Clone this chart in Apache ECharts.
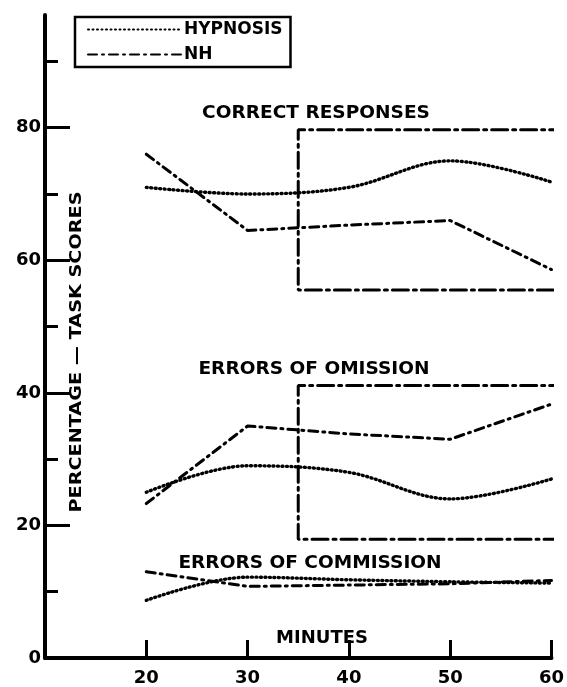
<!DOCTYPE html>
<html lang="en">

<head>
  <meta charset="UTF-8">
  <title>Task scores</title>
  <script src="https://cdn.jsdelivr.net/npm/echarts@6/dist/echarts.min.js"></script>
  <style>
    body { margin: 0; background: #fff; }
  </style>
</head>

<body>
  <div id="main" style="width: 567px;height:687px;"></div>
  <script type="text/javascript">
    // values
    var minutes = [20, 30, 40, 50, 60];
    var hypCorrect = [71, 70, 71, 75, 71.8];
    var nhCorrect = [76, 64.5, 65.3, 66, 58.6];
    var hypOmission = [25, 29, 28, 24, 27];
    var nhOmission = [23.3, 35, 33.8, 33, 38.3];
    var hypCommission = [8.7, 12.2, 11.8, 11.5, 11.3];
    var nhCommission = [13, 10.8, 11, 11.2, 11.7];

    var yMajor = [0, 20, 40, 60, 80];
    var yMinor = [10, 30, 50, 70, 90];
    var xTicks = [20, 30, 40, 50, 60];

    // the two dash-dot frames (right side runs off the page)
    var boxCorrect = [[61.4, 79.7], [35, 79.7], [35, 55.5], [61.4, 55.5]];
    var boxOmission = [[61.4, 41.1], [35, 41.1], [35, 17.9], [61.4, 17.9]];

    function pairs(ys) {
      return minutes.map(function (m, i) { return [m, ys[i]]; });
    }

    var FONT = 'DejaVu Sans';
    var dotted = { color: '#000', width: 3.4, type: [1, 3.5], cap: 'round' };
    var dashDot = { color: '#000', width: 3, type: [9, 5, 2, 5], cap: 'round' };
    var frame = { color: '#000', width: 3, type: [16, 5, 3, 5], cap: 'round' };

    function curve(name, ys, style, smooth) {
      return {
        name: name, type: 'line', data: pairs(ys), symbol: 'none',
        smooth: smooth, lineStyle: style, itemStyle: { color: '#000' },
        animation: false
      };
    }

    function box(name, pts) {
      return {
        name: name, type: 'line', data: pts, symbol: 'none', clip: false,
        lineStyle: frame, animation: false, silent: true
      };
    }

    function text(str, x, y, size, rot, sx) {
      return {
        type: 'text', x: x, y: y, rotation: rot || 0, scaleX: sx || 1,
        style: {
          text: str, fill: '#000', font: 'bold ' + size + 'px ' + FONT,
          align: 'center', verticalAlign: 'middle'
        }
      };
    }

    var myChart = echarts.init(document.getElementById('main'));

    var option = {
      backgroundColor: '#fff',
      animation: false,
      grid: { left: 45, right: 13, top: 15, bottom: 26, containLabel: false },
      legend: {
        data: ['HYPNOSIS', 'NH'],
        orient: 'vertical',
        left: 75, top: 17,
        padding: [4, 8, 4, 12],
        itemWidth: 93, itemHeight: 14, itemGap: 8,
        borderColor: '#000', borderWidth: 2.5,
        itemStyle: { opacity: 0 },
        textStyle: { color: '#000', fontWeight: 'bold', fontSize: 17, fontFamily: FONT, padding: [0, 0, 0, -2] }
      },
      xAxis: {
        type: 'value', min: 10, max: 60,
        axisLine: { lineStyle: { color: '#000', width: 4 } },
        axisTick: { inside: true, length: 18, lineStyle: { color: '#000', width: 3 }, customValues: xTicks },
        axisLabel: { customValues: xTicks, margin: 11, color: '#000', fontWeight: 'bold', fontSize: 18, fontFamily: FONT },
        splitLine: { show: false }
      },
      yAxis: [{
        type: 'value', min: 0, max: 97, position: 'left',
        axisLine: { lineStyle: { color: '#000', width: 4 } },
        axisTick: { inside: true, length: 25, lineStyle: { color: '#000', width: 3 }, customValues: [20, 40, 60, 80] },
        axisLabel: { customValues: yMajor, margin: 4, color: '#000', fontWeight: 'bold', fontSize: 18, fontFamily: FONT },
        splitLine: { show: false }
      }, {
        type: 'value', min: 0, max: 97, position: 'left',
        axisLine: { show: false },
        axisTick: { inside: true, length: 13, lineStyle: { color: '#000', width: 3 }, customValues: yMinor },
        axisLabel: { show: false },
        splitLine: { show: false }
      }],
      series: [
        curve('HYPNOSIS', hypCorrect, dotted, 0.35),
        curve('NH', nhCorrect, dashDot, false),
        curve('HYPNOSIS', hypOmission, dotted, 0.35),
        curve('NH', nhOmission, dashDot, false),
        curve('HYPNOSIS', hypCommission, dotted, 0.35),
        curve('NH', nhCommission, dashDot, false),
        box('frame1', boxCorrect),
        box('frame2', boxOmission)
      ],
      graphic: [
        text('CORRECT RESPONSES', 316, 113, 18, 0, 1.03),
        text('ERRORS OF OMISSION', 314, 369, 18, 0, 1.03),
        text('ERRORS OF COMMISSION', 310, 563, 18, 0, 1.03),
        text('MINUTES', 322, 638, 18),
        text('PERCENTAGE — TASK SCORES', 77, 352, 16, Math.PI / 2, 1.2)
      ]
    };

    myChart.setOption(option);
  </script>
</body>

</html>
